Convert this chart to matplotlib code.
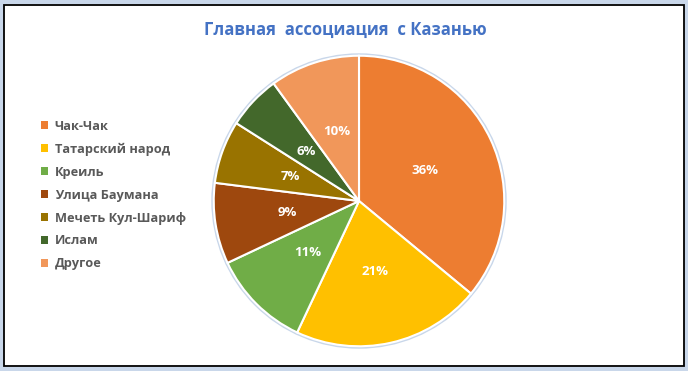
import matplotlib.pyplot as plt
from matplotlib.patches import Rectangle, Circle

categories = ["Чак-Чак", "Татарский народ", "Креиль", "Улица Баумана",
              "Мечеть Кул-Шариф", "Ислам", "Другое"]
shares = [36, 21, 11, 9, 7, 6, 10]
colors = ["#ED7D31", "#FFC000", "#70AD47", "#9E480E", "#997300", "#43682B", "#F1975A"]
title = "Главная  ассоциация  с Казанью"

plt.rcParams['font.family'] = ['Open Sans', 'DejaVu Sans']

fig = plt.figure(figsize=(6.88, 3.71), dpi=100)

# outer frame with a light blue glow
fig.patches.append(Rectangle((2 / 688, 2 / 371), 684 / 688, 367 / 371, transform=fig.transFigure,
                             fill=False, edgecolor="#c9d7ea", linewidth=3, zorder=0))
fig.patches.append(Rectangle((4 / 688, 5 / 371), 680 / 688, 361 / 371, transform=fig.transFigure,
                             fill=False, edgecolor="black", linewidth=1.3, zorder=1))

ax = fig.add_axes([(359 - 146) / 688, (170 - 146) / 371, 292 / 688, 292 / 371])
ax.add_patch(Circle((0, 0), 1.012, color="#c9d7ea", zorder=0, clip_on=False))
wedges, texts, autotexts = ax.pie(
    shares, colors=colors, startangle=90, counterclock=False,
    autopct=lambda p: f"{p:.0f}%", pctdistance=0.5,
    wedgeprops=dict(edgecolor="white", linewidth=1.5),
    textprops=dict(color="white", fontsize=9.5, fontweight="bold"))
ax.set_xlim(-1.005, 1.005)
ax.set_ylim(-1.005, 1.005)
ax.set_aspect("equal")

fig.text(345 / 688, 1 - 30 / 371, title, ha="center", va="center",
         fontsize=12, fontweight="bold", color="#4472C4")

leg = fig.legend(wedges, categories, loc="upper left", bbox_to_anchor=(29 / 688, 1 - 108 / 371),
                 frameon=False, handlelength=0.6, handleheight=0.6, handletextpad=0.5,
                 labelspacing=0.78, prop=dict(size=9.2, weight="bold"))
for t in leg.get_texts():
    t.set_color("#595959")
for h in leg.legend_handles:
    h.set_edgecolor("none")

plt.savefig("out.png", dpi=100)
